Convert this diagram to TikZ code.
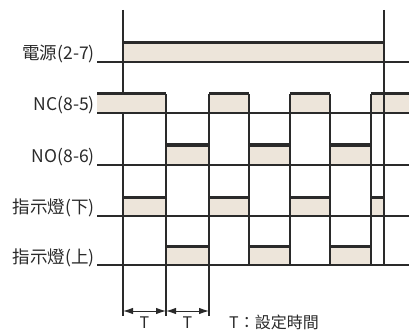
\documentclass[tikz,border=0pt]{standalone}
\usepackage{fontspec}
\setmainfont{Noto Sans CJK TC}
\usetikzlibrary{arrows.meta}
\definecolor{hifill}{HTML}{EDE5DA}
\definecolor{ink}{HTML}{2A2A2A}
\begin{document}
\begin{tikzpicture}[x=1pt,y=-1pt,
  thin/.style={draw=ink,line width=1.1pt},
  toplevel/.style={draw=ink,line width=3pt},
  hibox/.style={fill=hifill},
  lbl/.style={anchor=base east,inner sep=0pt,font=\fontsize{17.5}{20}\selectfont,text=ink},
  dim/.style={draw=ink,line width=1pt,{Latex[length=10pt,width=6.5pt]}-{Latex[length=10pt,width=6.5pt]}},
  tlbl/.style={inner sep=0pt,font=\fontsize{16}{18}\selectfont,text=ink}]
\useasboundingbox (0,0) rectangle (414,331);
% fills
\fill[hibox] (123,43) rectangle (384,62);
\foreach \a/\b in {97/166,209/249,290/330,371/409} \fill[hibox] (\a,94) rectangle (\b,113);
\foreach \a/\b in {166/209,249/290,330/371} \fill[hibox] (\a,145) rectangle (\b,165);
\foreach \a/\b in {123/166,209/249,290/330,371/384} \fill[hibox] (\a,197) rectangle (\b,216);
\foreach \a/\b in {166/209,249/290,330/371} \fill[hibox] (\a,246) rectangle (\b,265);
% main verticals
\draw[thin] (123,10) -- (123,94);
\draw[thin] (123,113) -- (123,316);
\draw[thin] (384,10) -- (384,265);
% transition verticals
\foreach \x in {166,209} \draw[thin] (\x,94) -- (\x,316);
\foreach \x in {249,290,330,371} \draw[thin] (\x,94) -- (\x,265);
% baselines
\foreach \y in {62,113,165,216,265} \draw[thin] (97,\y) -- (409,\y);
% high levels
\draw[toplevel] (123,43) -- (384,43);
\foreach \a/\b in {97/166,209/249,290/330,371/409} \draw[toplevel] (\a,94) -- (\b,94);
\foreach \a/\b in {166/209,249/290,330/371} \draw[toplevel] (\a,145) -- (\b,145);
\foreach \a/\b in {123/166,209/249,290/330,371/384} \draw[toplevel] (\a,197) -- (\b,197);
\foreach \a/\b in {166/209,249/290,330/371} \draw[toplevel] (\a,246) -- (\b,246);
% labels
\node[lbl] (l1) at (95,60) {電源(2-7)};
\node[lbl] (l2) at (95,111) {NC(8-5)};
\node[lbl] (l3) at (95,162) {NO(8-6)};
\node[lbl] (l4) at (95,213) {指示燈(下)};
\node[lbl] (l5) at (95,263) {指示燈(上)};
% dimensions
\coordinate (d0) at (123,311);
\coordinate (d1) at (166,311);
\coordinate (d2) at (209,311);
\draw[dim] (d0) -- (d1);
\draw[dim] (d1) -- (d2);
\node[tlbl] (t1) at (144.5,323) {T};
\node[tlbl] (t2) at (187.5,323) {T};
\node[tlbl,anchor=west] (leg) at (229,322) {T：設定時間};
\end{tikzpicture}
\end{document}
